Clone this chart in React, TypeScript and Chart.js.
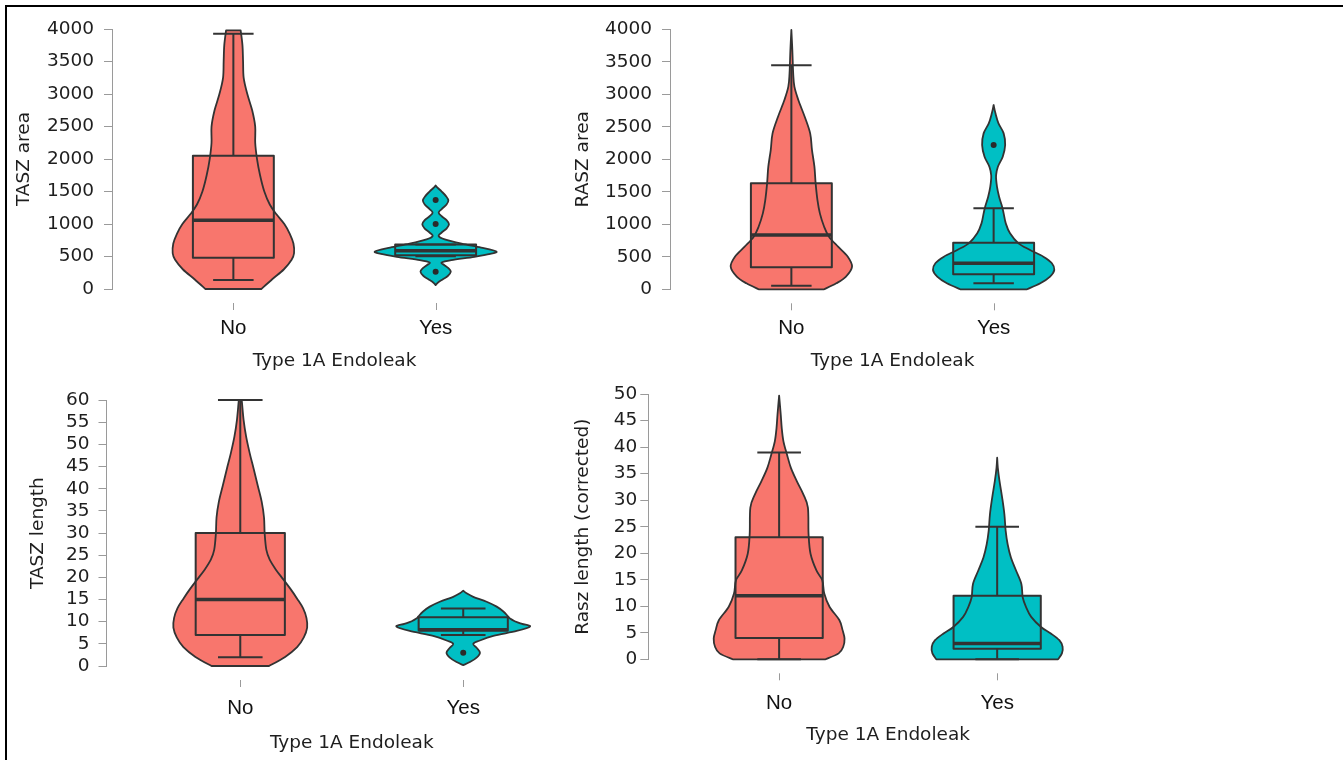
import React, { useEffect, useRef } from 'react';
import { Chart, registerables } from 'chart.js';

Chart.register(...registerables);

// ---------- shared ----------
const categories = ['No', 'Yes'];
const groupColors = ['#F8766D', '#00BFC4'];
const xAxisTitle = 'Type 1A Endoleak';

// ---------- TASZ area ----------
const taszAreaRange = [0, 4000, 500];
// box: [lower whisker, Q1, median, Q3, upper whisker]
const taszAreaNoBox = [140, 480, 1060, 2050, 3930];
const taszAreaYesBox = [505, 521, 590, 685, 685];
const taszAreaNoOutliers: number[] = [];
const taszAreaYesOutliers = [265, 1000, 1370];
// violin: [value, relative density width]
const taszAreaNoViolin = [
  [0, 0.46], [150, 0.64], [300, 0.83], [450, 0.96], [550, 1], [700, 0.99], [850, 0.93],
  [1000, 0.84], [1150, 0.71], [1300, 0.6], [1500, 0.51], [1750, 0.44], [2000, 0.39],
  [2250, 0.36], [2500, 0.36], [2750, 0.31], [3000, 0.23], [3250, 0.17], [3500, 0.16],
  [3750, 0.15], [3980, 0.12],
];
const taszAreaYesViolin = [
  [60, 0], [100, 0.04], [150, 0.12], [200, 0.2], [265, 0.25], [320, 0.21], [370, 0.14],
  [409, 0.1], [444, 0.26], [495, 0.64], [540, 0.9], [577, 1], [637, 0.75], [698, 0.43],
  [764, 0.15], [815, 0.05], [870, 0.1], [930, 0.18], [996, 0.22], [1060, 0.18], [1120, 0.1],
  [1175, 0.05], [1230, 0.1], [1300, 0.18], [1363, 0.21], [1430, 0.17], [1500, 0.1],
  [1560, 0.03], [1593, 0],
];

// ---------- RASZ area ----------
const raszAreaRange = [0, 4000, 500];
const raszAreaNoBox = [55, 338, 835, 1630, 3446];
const raszAreaYesBox = [92, 231, 400, 717, 1246];
const raszAreaNoOutliers: number[] = [];
const raszAreaYesOutliers = [2220];
const raszAreaNoViolin = [
  [0, 0.54], [92, 0.74], [195, 0.9], [348, 1], [502, 0.93], [656, 0.77], [810, 0.62],
  [963, 0.54], [1168, 0.47], [1373, 0.43], [1630, 0.4], [1886, 0.38], [2142, 0.34],
  [2399, 0.31], [2655, 0.22], [2912, 0.115], [3117, 0.05], [3322, 0.03], [3680, 0.016],
  [3990, 0],
];
const raszAreaYesViolin = [
  [0, 0.55], [92, 0.77], [195, 0.93], [297, 1], [400, 0.96], [502, 0.82], [605, 0.6],
  [707, 0.41], [861, 0.27], [1014, 0.2], [1168, 0.165], [1271, 0.14], [1425, 0.09],
  [1578, 0.055], [1750, 0.04], [1886, 0.07], [2040, 0.15], [2220, 0.19], [2399, 0.165],
  [2553, 0.08], [2707, 0.03], [2835, 0],
];

// ---------- TASZ length ----------
const taszLengthRange = [0, 60, 5];
const taszLengthNoBox = [2, 7, 15, 30, 60];
const taszLengthYesBox = [7, 8, 8.2, 11, 13];
const taszLengthNoOutliers: number[] = [];
const taszLengthYesOutliers = [3];
const taszLengthNoViolin = [
  [0, 0.43], [2.05, 0.67], [4.25, 0.85], [6.44, 0.95], [8.64, 1], [10.8, 0.99], [13, 0.94],
  [15.2, 0.85], [17.4, 0.75], [19.6, 0.64], [21.8, 0.53], [24, 0.44], [26.2, 0.39],
  [29.8, 0.365], [33.5, 0.355], [37.1, 0.32], [40.8, 0.26], [44.5, 0.2], [48.1, 0.14],
  [51.8, 0.087], [55.5, 0.05], [59.5, 0.025], [60, 0.02],
];
const taszLengthYesViolin = [
  [0.2, 0], [0.9, 0.1], [1.9, 0.2], [3, 0.25], [4.1, 0.2], [5, 0.15], [5.7, 0.24],
  [6.8, 0.45], [7.9, 0.8], [8.9, 1], [9.5, 0.88], [10.1, 0.77], [10.7, 0.7], [11.2, 0.67],
  [12.3, 0.6], [13.4, 0.5], [14.5, 0.35], [15.6, 0.15], [16.4, 0.05], [17, 0],
];

// ---------- Rasz length (corrected) ----------
const raszLengthRange = [0, 50, 5];
const raszLengthNoBox = [0, 4, 12, 23, 39];
const raszLengthYesBox = [0, 2, 3, 12, 25];
const raszLengthNoOutliers: number[] = [];
const raszLengthYesOutliers: number[] = [];
const raszLengthNoViolin = [
  [0, 0.71], [1.12, 0.91], [2.37, 0.98], [3.93, 1], [5.5, 0.97], [7.4, 0.92], [9.9, 0.77],
  [12.4, 0.69], [14.9, 0.66], [16.75, 0.57], [19.9, 0.48], [23.6, 0.45], [28.6, 0.44],
  [31.1, 0.37], [33.6, 0.27], [36.1, 0.18], [38.6, 0.12], [41.1, 0.066], [43.6, 0.04],
  [46.1, 0.025], [49.7, 0],
];
const raszLengthYesViolin = [
  [0, 0.93], [1.12, 0.99], [2.37, 1], [3.6, 0.95], [4.87, 0.82], [6.1, 0.67], [8, 0.52],
  [9.9, 0.44], [11.7, 0.39], [14.2, 0.37], [16.7, 0.29], [19.2, 0.21], [21.7, 0.16],
  [24.2, 0.13], [27.4, 0.11], [30.5, 0.076], [33.6, 0.036], [36.1, 0.01], [38, 0],
];

// ---------- layout (positions only) ----------
type Panel = {
  yTitle: string;
  range: number[];
  boxes: number[][];
  violins: number[][][];
  outliers: number[][];
  canvas: number[]; // x, y, w, h on page
  area: number[]; // left, right, top, bottom on page
  yTitleX: number;
  yLabelPad: number;
  xLabelOff: number;
  xTitleOff: number;
};

const panels: Panel[] = [
  {
    yTitle: 'TASZ area', range: taszAreaRange,
    boxes: [taszAreaNoBox, taszAreaYesBox], violins: [taszAreaNoViolin, taszAreaYesViolin],
    outliers: [taszAreaNoOutliers, taszAreaYesOutliers],
    canvas: [8, 8, 590, 372], area: [112, 557, 28.3, 289],
    yTitleX: 24.5, yLabelPad: 10, xLabelOff: 39.5, xTitleOff: 72.5,
  },
  {
    yTitle: 'RASZ area', range: raszAreaRange,
    boxes: [raszAreaNoBox, raszAreaYesBox], violins: [raszAreaNoViolin, raszAreaYesViolin],
    outliers: [raszAreaNoOutliers, raszAreaYesOutliers],
    canvas: [560, 8, 783, 372], area: [670, 1115, 29.3, 289.3],
    yTitleX: 582.7, yLabelPad: 10, xLabelOff: 39, xTitleOff: 72,
  },
  {
    yTitle: 'TASZ length', range: taszLengthRange,
    boxes: [taszLengthNoBox, taszLengthYesBox], violins: [taszLengthNoViolin, taszLengthYesViolin],
    outliers: [taszLengthNoOutliers, taszLengthYesOutliers],
    canvas: [8, 380, 612, 380], area: [106.5, 597, 392.7, 666],
    yTitleX: 38.5, yLabelPad: 9, xLabelOff: 42.5, xTitleOff: 77,
  },
  {
    yTitle: 'Rasz length (corrected)', range: raszLengthRange,
    boxes: [raszLengthNoBox, raszLengthYesBox], violins: [raszLengthNoViolin, raszLengthYesViolin],
    outliers: [raszLengthNoOutliers, raszLengthYesOutliers],
    canvas: [560, 380, 783, 380], area: [648.3, 1128, 392.3, 659.3],
    yTitleX: 583.3, yLabelPad: 3, xLabelOff: 44, xTitleOff: 75.5,
  },
];

const LINE = '#333333';
const AXIS = '#9a9a9a';
const TEXT = '#1e1e1e';
const NUM_FONT = "'DejaVu Sans', sans-serif";
const CAT_FONT = "'Liberation Sans', Arial, sans-serif";
const TITLE_SIZE = 18.5;
const TICK_SIZE = 18.5;
const CAT_SIZE = 20.5;

function smoothSide(ctx: CanvasRenderingContext2D, pts: { x: number; y: number }[], start: boolean) {
  if (start) ctx.moveTo(pts[0].x, pts[0].y);
  else ctx.lineTo(pts[0].x, pts[0].y);
  const t = 1 / 6;
  for (let i = 0; i < pts.length - 1; i++) {
    const p0 = pts[i - 1] || pts[i];
    const p1 = pts[i];
    const p2 = pts[i + 1];
    const p3 = pts[i + 2] || pts[i + 1];
    ctx.bezierCurveTo(
      p1.x + (p2.x - p0.x) * t, p1.y + (p2.y - p0.y) * t,
      p2.x - (p3.x - p1.x) * t, p2.y - (p3.y - p1.y) * t,
      p2.x, p2.y,
    );
  }
}

function makePlugin(p: Panel) {
  return {
    id: 'violinBox',
    beforeDatasetsDraw(chart: any) {
      const { ctx } = chart;
      const xs = chart.scales.x;
      const ys = chart.scales.y;
      const X = (v: number) => xs.getPixelForValue(v);
      const Y = (v: number) => ys.getPixelForValue(v);
      ctx.save();
      categories.forEach((_, i) => {
        const color = groupColors[i];
        const [wlo, q1, med, q3, whi] = p.boxes[i];
        const bl = X(i - 0.2);
        const br = X(i + 0.2);
        // box fill
        ctx.fillStyle = color;
        ctx.fillRect(bl, Y(q3), br - bl, Y(q1) - Y(q3));
        // violin
        const v = p.violins[i];
        const right = v.map(([val, w]) => ({ x: X(i + 0.3 * w), y: Y(val) }));
        const left = v.map(([val, w]) => ({ x: X(i - 0.3 * w), y: Y(val) })).reverse();
        ctx.beginPath();
        smoothSide(ctx, right, true);
        smoothSide(ctx, left, false);
        ctx.closePath();
        ctx.fillStyle = color;
        ctx.fill();
        ctx.lineWidth = 1.8;
        ctx.strokeStyle = LINE;
        ctx.lineJoin = 'round';
        ctx.stroke();
        // box outline
        ctx.lineWidth = 2;
        ctx.strokeRect(bl, Y(q3), br - bl, Y(q1) - Y(q3));
        // whiskers
        const cx = X(i);
        ctx.beginPath();
        ctx.moveTo(cx, Y(q3));
        ctx.lineTo(cx, Y(whi));
        ctx.moveTo(cx, Y(q1));
        ctx.lineTo(cx, Y(wlo));
        ctx.moveTo(X(i - 0.1), Y(whi));
        ctx.lineTo(X(i + 0.1), Y(whi));
        ctx.moveTo(X(i - 0.1), Y(wlo));
        ctx.lineTo(X(i + 0.1), Y(wlo));
        ctx.stroke();
        // median
        ctx.lineWidth = 3.5;
        ctx.beginPath();
        ctx.moveTo(bl, Y(med));
        ctx.lineTo(br, Y(med));
        ctx.stroke();
      });
      // x tick marks (detached from the plot)
      const bottom = chart.chartArea.bottom;
      ctx.strokeStyle = AXIS;
      ctx.lineWidth = 1;
      categories.forEach((_, i) => {
        const cx = Math.round(X(i)) + 0.5;
        ctx.beginPath();
        ctx.moveTo(cx, bottom + 14);
        ctx.lineTo(cx, bottom + 21);
        ctx.stroke();
      });
      ctx.restore();
    },
  };
}

function PanelChart({ p }: { p: Panel }) {
  const ref = useRef<HTMLCanvasElement>(null);
  useEffect(() => {
    const [cx, cy, cw, ch] = p.canvas;
    const [L, R, T, B] = p.area;
    const yWidth = L - cx;
    const xHeight = cy + ch - B;
    const titleLH = TITLE_SIZE * 1.2;
    const catLH = CAT_SIZE * 1.2;
    const points = p.outliers.flatMap((vals, i) => vals.map((v) => ({ x: i, y: v })));
    const chart = new Chart(ref.current as HTMLCanvasElement, {
      type: 'scatter',
      data: {
        datasets: [
          {
            data: points,
            pointRadius: 3,
            pointHoverRadius: 3,
            pointBackgroundColor: '#2a2a2a',
            pointBorderWidth: 0,
          },
        ],
      },
      options: {
        responsive: false,
        animation: false,
        devicePixelRatio: 1,
        events: [],
        layout: {
          autoPadding: false,
          padding: { left: 0, top: T - cy, right: cx + cw - R, bottom: 0 },
        },
        plugins: { legend: { display: false }, tooltip: { enabled: false } },
        scales: {
          x: {
            type: 'linear',
            min: -0.6,
            max: 1.6,
            grid: { display: false, drawTicks: false },
            border: { display: false },
            afterBuildTicks: (s: any) => {
              s.ticks = categories.map((_, i) => ({ value: i }));
            },
            afterFit: (s: any) => {
              s.height = xHeight;
            },
            ticks: {
              autoSkip: false,
              maxRotation: 0,
              padding: p.xLabelOff - catLH / 2,
              color: '#111',
              font: { family: CAT_FONT, size: CAT_SIZE },
              callback: (v: any) => categories[v as number] ?? '',
            },
            title: {
              display: true,
              text: xAxisTitle,
              color: TEXT,
              font: { family: NUM_FONT, size: TITLE_SIZE },
              padding: { top: 0, bottom: xHeight - p.xTitleOff - titleLH / 2 },
            },
          },
          y: {
            type: 'linear',
            min: p.range[0],
            max: p.range[1],
            afterFit: (s: any) => {
              s.width = yWidth;
            },
            grid: { drawOnChartArea: false, drawTicks: true, tickLength: 8, color: AXIS },
            border: { display: true, color: AXIS, width: 1 },
            ticks: {
              stepSize: p.range[2],
              autoSkip: false,
              padding: p.yLabelPad,
              color: TEXT,
              font: { family: NUM_FONT, size: TICK_SIZE },
              callback: (v: any) => String(v),
            },
            title: {
              display: true,
              text: p.yTitle,
              color: TEXT,
              font: { family: NUM_FONT, size: TITLE_SIZE },
              padding: { top: p.yTitleX - cx - titleLH / 2, bottom: 0 },
            },
          },
        },
      } as any,
      plugins: [makePlugin(p)],
    });
    return () => chart.destroy();
  }, [p]);
  const [cx, cy, cw, ch] = p.canvas;
  return (
    <canvas
      ref={ref}
      width={cw}
      height={ch}
      style={{ position: 'absolute', left: cx, top: cy, width: cw, height: ch }}
    />
  );
}

export default function App() {
  return (
    <div
      style={{
        position: 'fixed',
        left: 0,
        top: 0,
        width: 1343,
        height: 760,
        background: '#ffffff',
        overflow: 'hidden',
      }}
    >
      <div
        style={{
          position: 'absolute',
          left: 5,
          top: 5,
          width: 1343,
          height: 760,
          borderTop: '2px solid #000',
          borderLeft: '2px solid #000',
          boxSizing: 'border-box',
        }}
      />
      {panels.map((p, i) => (
        <PanelChart key={i} p={p} />
      ))}
    </div>
  );
}
